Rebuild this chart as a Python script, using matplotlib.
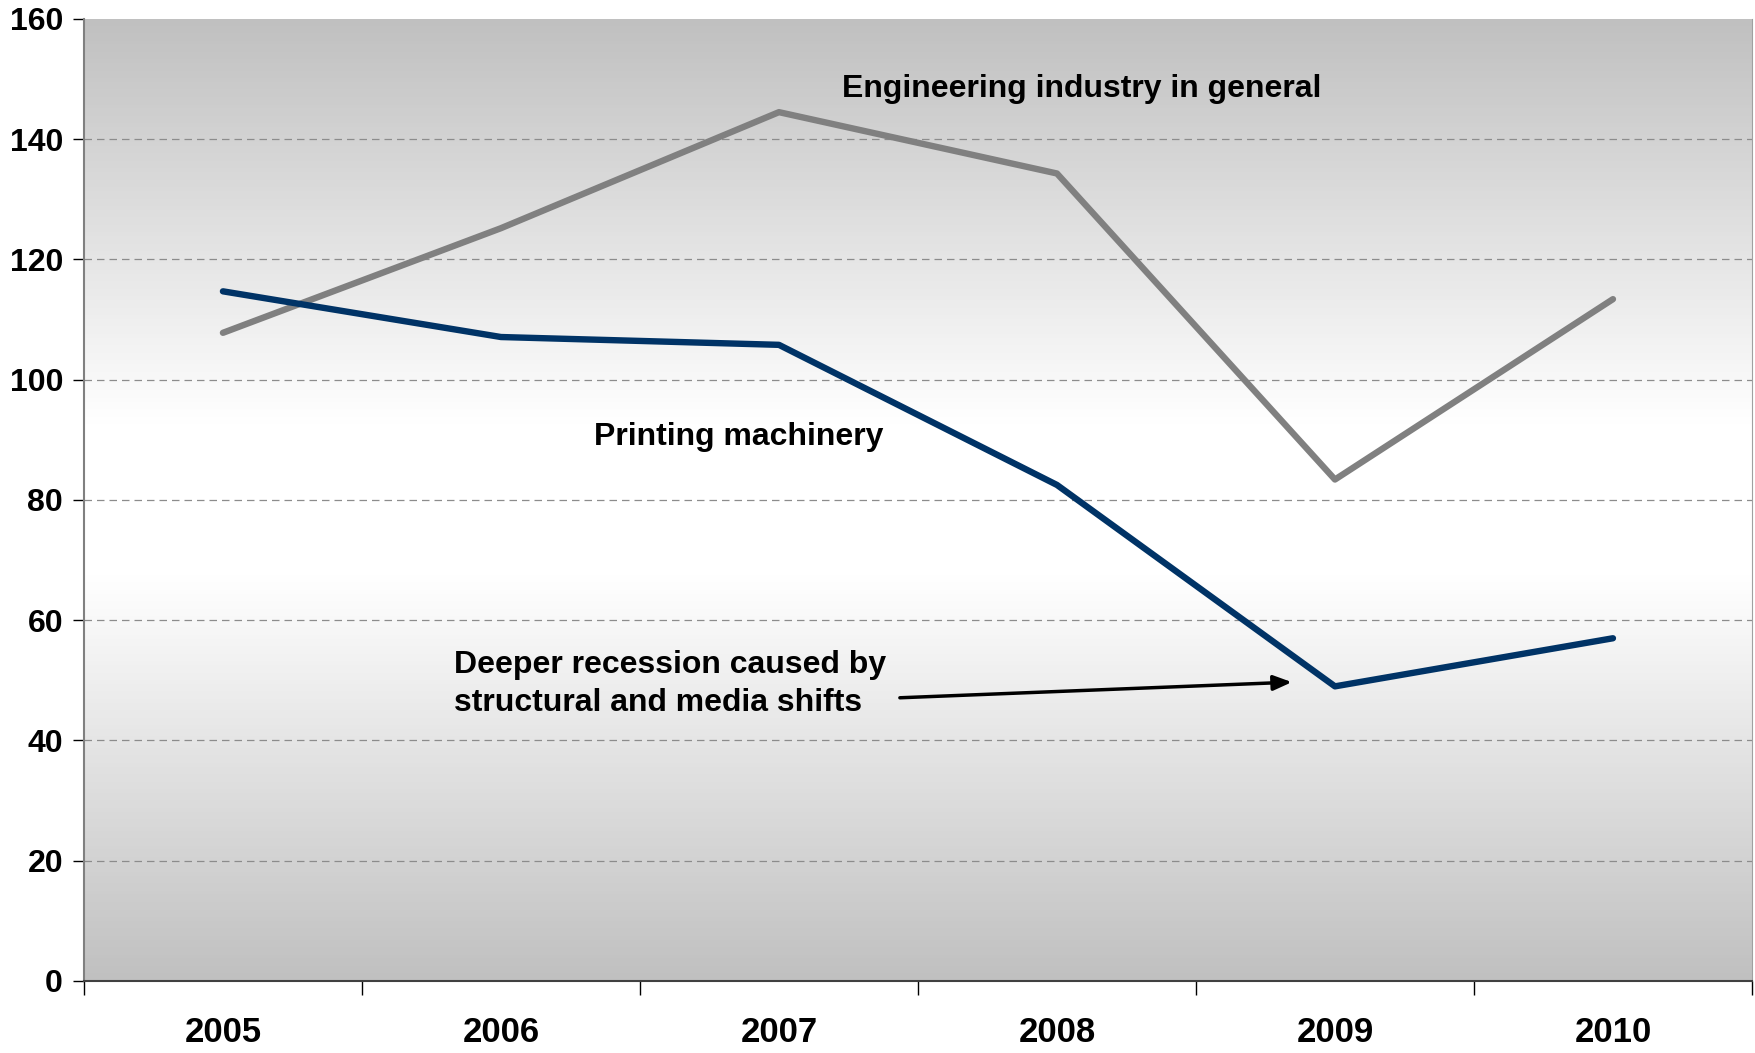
import numpy as np
import matplotlib.pyplot as plt
from matplotlib.colors import LinearSegmentedColormap

plt.rcParams['font.family'] = ['Liberation Sans', 'DejaVu Sans']
plt.rcParams['font.weight'] = 'bold'

years = ["2005", "2006", "2007", "2008", "2009", "2010"]
engineering = [107.8, 125.2, 144.5, 134.3, 83.4, 113.4]
printing = [114.7, 107.1, 105.8, 82.5, 49.0, 57.0]
y_ticks = [0, 20, 40, 60, 80, 100, 120, 140, 160]

fig = plt.figure(figsize=(17.56, 10.53), dpi=100)
ax = fig.add_axes([0.0478, 0.0684, 0.9499, 0.9136])

x = np.arange(len(years))
ax.set_xlim(-0.5, len(years) - 0.5)
ax.set_ylim(0, 160)

# grey - white - grey vertical fill behind the lines
grad = LinearSegmentedColormap.from_list(
    "bg", [(0.0, "#c0c0c0"), (0.42, "#ffffff"), (0.58, "#ffffff"), (1.0, "#c0c0c0")])
ax.imshow(np.linspace(0, 1, 256).reshape(-1, 1), cmap=grad, aspect="auto",
          extent=(-0.5, len(years) - 0.5, 0, 160), zorder=0)

for v in y_ticks[1:-1]:
    ax.axhline(v, color="#8c8c8c", lw=0.9, ls=(0, (6, 4)), zorder=1)

ax.plot(x, engineering, color="#808080", lw=4.6, zorder=3, solid_capstyle="round")
ax.plot(x, printing, color="#003366", lw=4.6, zorder=3, solid_capstyle="round")

ax.text(2.227, 148.3, "Engineering industry in general", fontsize=23,
        fontweight="bold", va="center", ha="left")
ax.text(1.335, 90.4, "Printing machinery", fontsize=23,
        fontweight="bold", va="center", ha="left")
ax.text(0.831, 49.4, "Deeper recession caused by\nstructural and media shifts",
        fontsize=23, fontweight="bold", va="center", ha="left", linespacing=1.38)
ax.annotate("", xy=(3.845, 49.7), xytext=(2.435, 47.1),
            arrowprops=dict(arrowstyle="-|>,head_length=1.1,head_width=0.45",
                            color="black", lw=2.5, shrinkA=0, shrinkB=0))

ax.set_yticks(y_ticks)
ax.set_yticklabels([str(v) for v in y_ticks], fontsize=23, fontweight="bold")
ax.tick_params(axis="y", length=8, width=1, pad=7, colors="black")

ax.set_xticks(x)
ax.set_xticklabels(years, fontsize=25, fontweight="bold")
ax.set_xticks(np.arange(-0.5, len(years)), minor=True)
ax.tick_params(axis="x", which="major", length=0, pad=25)
ax.tick_params(axis="x", which="minor", length=10, width=1, colors="black")

ax.spines["left"].set_color("#808080")
ax.spines["left"].set_linewidth(1.5)
ax.spines["bottom"].set_color("#404040")
ax.spines["bottom"].set_linewidth(1.5)
ax.spines["top"].set_visible(False)
ax.spines["right"].set_color("#a0a0a0")

fig.savefig("out.png", dpi=100)
